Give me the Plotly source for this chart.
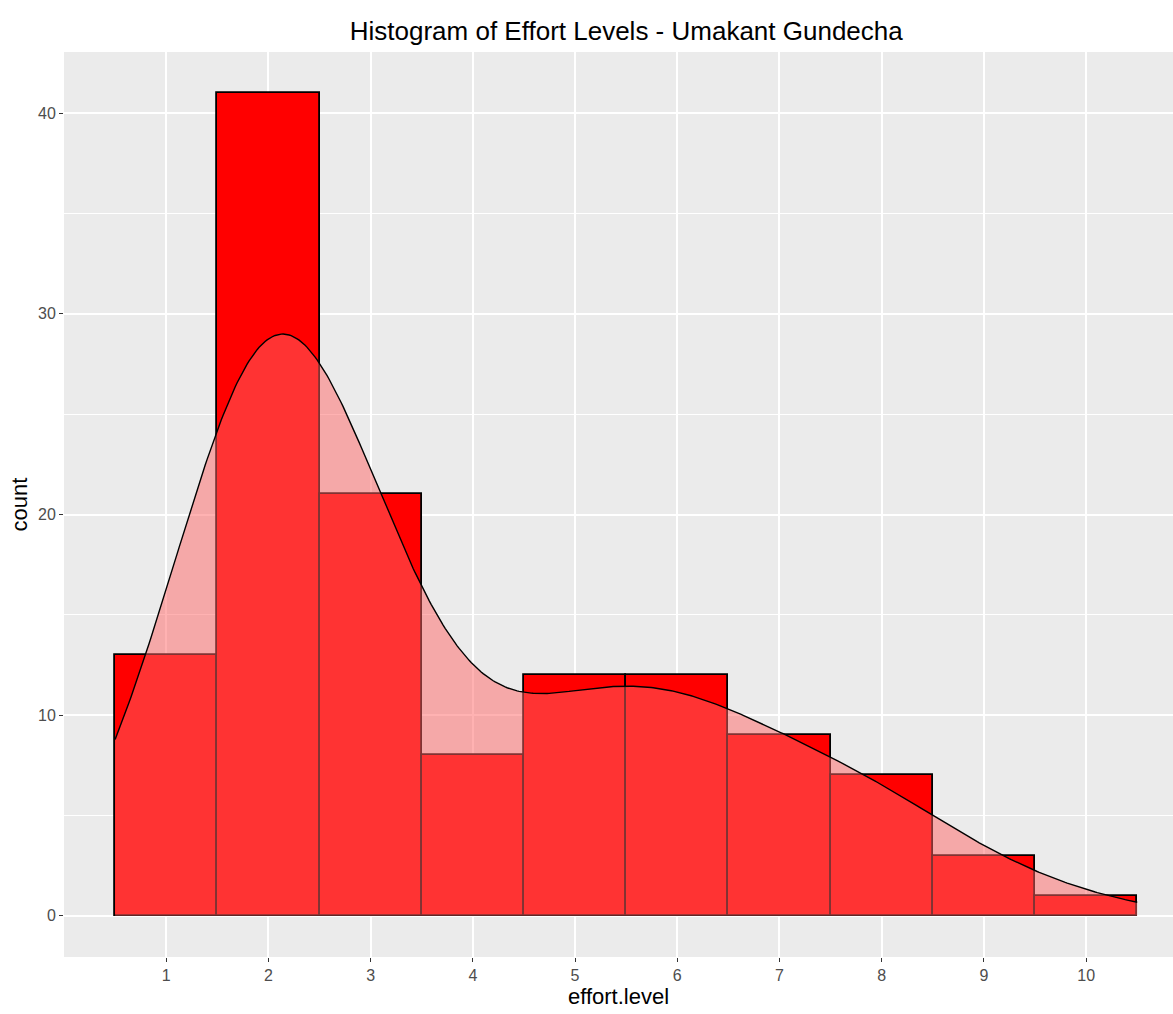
import numpy as np
import plotly.graph_objects as go

# Histogram of effort levels (binwidth 1)
levels = [1, 2, 3, 4, 5, 6, 7, 8, 9, 10]
counts = [13, 41, 21, 8, 12, 12, 9, 7, 3, 1]
y_ticks = [0, 10, 20, 30, 40]

# Kernel density of the individual observations, scaled to counts
obs = np.repeat(levels, counts).astype(float)
n = obs.size
q75, q25 = np.percentile(obs, [75, 25])
bw = 0.9 * min(obs.std(ddof=1), (q75 - q25) / 1.34) * n ** -0.2
grid = np.linspace(levels[0] - 0.5, levels[-1] + 0.5, 512)
dens = np.exp(-0.5 * ((grid[:, None] - obs[None, :]) / bw) ** 2).sum(axis=1)
dens = dens / (bw * np.sqrt(2 * np.pi))

FONT = "Liberation Sans, Arial, sans-serif"

fig = go.Figure()
fig.add_trace(go.Bar(
    x=levels, y=counts, width=1,
    marker=dict(color="#FF0000", line=dict(color="black", width=1.8)),
    hoverinfo="x+y",
))
fig.add_trace(go.Scatter(
    x=grid, y=dens, mode="lines", fill="tozeroy",
    fillcolor="rgba(255,102,102,0.5)",
    line=dict(color="black", width=1.4),
    hoverinfo="skip",
))

fig.update_layout(
    width=1173, height=1014,
    margin=dict(l=64, r=0, t=52, b=57),
    paper_bgcolor="white", plot_bgcolor="#EBEBEB",
    showlegend=False, bargap=0,
    font=dict(family=FONT, color="#4D4D4D"),
    title=dict(
        text="Histogram of Effort Levels - Umakant Gundecha",
        x=0.507, xref="paper", xanchor="center",
        y=1 - 31 / 1014, yref="container", yanchor="middle",
        font=dict(size=26, color="black", family=FONT),
    ),
    xaxis=dict(
        range=[0, 10.85], tickvals=levels, ticktext=[str(v) for v in levels],
        showgrid=True, gridcolor="white", gridwidth=2, zeroline=False,
        ticks="outside", ticklen=4, tickcolor="#333333", tickwidth=1,
        tickfont=dict(size=16, color="#4D4D4D"),
        title=dict(text="effort.level", font=dict(size=22, color="black"), standoff=4),
    ),
    yaxis=dict(
        range=[-2.05, 43.05], tickvals=y_ticks,
        showgrid=True, gridcolor="white", gridwidth=2, zeroline=False,
        minor=dict(dtick=5, tick0=0, showgrid=True, gridcolor="white", gridwidth=1),
        ticks="outside", ticklen=4, tickcolor="#333333", tickwidth=1,
        tickfont=dict(size=16, color="#4D4D4D"),
        title=dict(text="count", font=dict(size=22, color="black"), standoff=4),
    ),
)

fig.write_html("out.html")
